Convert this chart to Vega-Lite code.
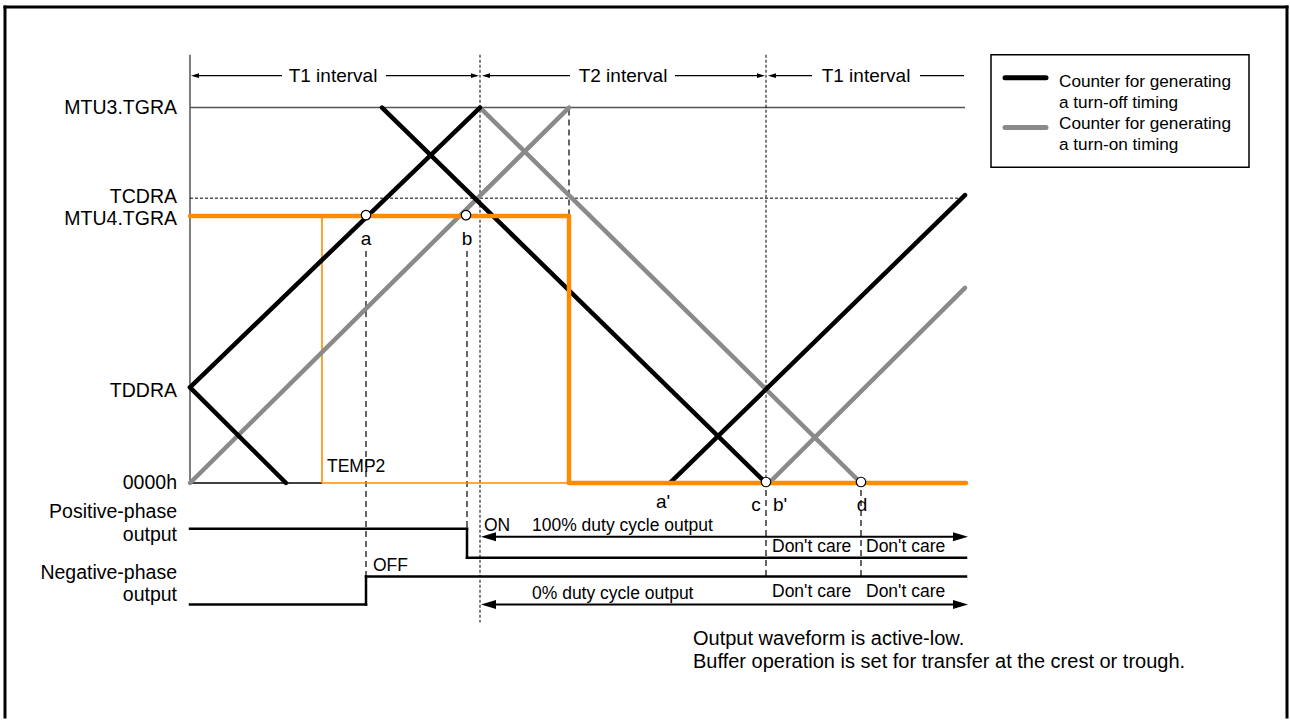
{
  "$schema": "https://vega.github.io/schema/vega-lite/v6.json",
  "width": 1290,
  "height": 720,
  "padding": 0,
  "autosize": {"type": "fit", "contains": "padding"},
  "background": "white",
  "config": {"view": {"stroke": null}, "text": {"font": "Liberation Sans", "color": "black"}},
  "encoding": {
    "x": {"field": "x", "type": "quantitative", "scale": {"domain": [0, 1290], "nice": false, "zero": false}, "axis": null},
    "y": {"field": "y", "type": "quantitative", "scale": {"domain": [0, 720], "nice": false, "zero": false, "reverse": true}, "axis": null}
  },
  "layer": [
    {
      "data": {"values": [
        {"x": 5, "y": 7, "x2": 5, "y2": 720},
        {"x": 5, "y": 7, "x2": 1287, "y2": 7},
        {"x": 1287, "y": 7, "x2": 1287, "y2": 720}
      ]},
      "mark": {"type": "rule", "color": "black", "strokeWidth": 3, "strokeCap": "square"},
      "encoding": {"x2": {"field": "x2"}, "y2": {"field": "y2"}}
    },
    {
      "data": {"values": [
        {"x": 190, "y": 55, "x2": 190, "y2": 485},
        {"x": 190, "y": 108, "x2": 965, "y2": 108}
      ]},
      "mark": {"type": "rule", "color": "#555555", "strokeWidth": 1.5},
      "encoding": {"x2": {"field": "x2"}, "y2": {"field": "y2"}}
    },
    {
      "data": {"values": [
        {"x": 190, "y": 485, "x2": 322, "y2": 485}
      ]},
      "mark": {"type": "rule", "color": "black", "strokeWidth": 1.3},
      "encoding": {"x2": {"field": "x2"}, "y2": {"field": "y2"}}
    },
    {
      "data": {"values": [
        {"x": 190, "y": 199, "x2": 965, "y2": 199},
        {"x": 480, "y": 55, "x2": 480, "y2": 625},
        {"x": 766, "y": 55, "x2": 766, "y2": 485}
      ]},
      "mark": {"type": "rule", "color": "black", "strokeWidth": 1, "strokeDash": [3, 2]},
      "encoding": {"x2": {"field": "x2"}, "y2": {"field": "y2"}}
    },
    {
      "data": {"values": [
        {"x": 366, "y": 252, "x2": 366, "y2": 579},
        {"x": 467, "y": 252, "x2": 467, "y2": 531},
        {"x": 569, "y": 110, "x2": 569, "y2": 217},
        {"x": 766, "y": 492, "x2": 766, "y2": 579},
        {"x": 861, "y": 492, "x2": 861, "y2": 579}
      ]},
      "mark": {"type": "rule", "color": "black", "strokeWidth": 1.2, "strokeDash": [6, 4]},
      "encoding": {"x2": {"field": "x2"}, "y2": {"field": "y2"}}
    },
    {
      "data": {"values": [
        {"x": 322, "y": 217, "x2": 322, "y2": 485},
        {"x": 322, "y": 485, "x2": 569, "y2": 485}
      ]},
      "mark": {"type": "rule", "color": "#ff8c00", "strokeWidth": 1.6},
      "encoding": {"x2": {"field": "x2"}, "y2": {"field": "y2"}}
    },
    {
      "data": {"values": [
        {"x": 190, "y": 485, "x2": 569, "y2": 108},
        {"x": 480, "y": 108, "x2": 861, "y2": 485},
        {"x": 769, "y": 485, "x2": 965, "y2": 289}
      ]},
      "mark": {"type": "rule", "color": "#8a8a8a", "strokeWidth": 4.5, "strokeCap": "round"},
      "encoding": {"x2": {"field": "x2"}, "y2": {"field": "y2"}}
    },
    {
      "data": {"values": [
        {"x": 190, "y": 389, "x2": 480, "y2": 108},
        {"x": 190, "y": 389, "x2": 286, "y2": 485},
        {"x": 382, "y": 108, "x2": 766, "y2": 485},
        {"x": 670, "y": 485, "x2": 965, "y2": 196}
      ]},
      "mark": {"type": "rule", "color": "black", "strokeWidth": 4.5, "strokeCap": "round"},
      "encoding": {"x2": {"field": "x2"}, "y2": {"field": "y2"}}
    },
    {
      "data": {"values": [
        {"x": 190, "y": 217, "x2": 569, "y2": 217},
        {"x": 569, "y": 217, "x2": 569, "y2": 485},
        {"x": 569, "y": 485, "x2": 966, "y2": 485}
      ]},
      "mark": {"type": "rule", "color": "#ff8c00", "strokeWidth": 4.5, "strokeCap": "round"},
      "encoding": {"x2": {"field": "x2"}, "y2": {"field": "y2"}}
    },
    {
      "data": {"values": [
        {"x": 190, "y": 531, "x2": 467, "y2": 531},
        {"x": 467, "y": 531, "x2": 467, "y2": 560},
        {"x": 467, "y": 560, "x2": 966, "y2": 560},
        {"x": 190, "y": 607, "x2": 366, "y2": 607},
        {"x": 366, "y": 607, "x2": 366, "y2": 579},
        {"x": 366, "y": 579, "x2": 966, "y2": 579}
      ]},
      "mark": {"type": "rule", "color": "black", "strokeWidth": 2.5, "strokeCap": "square"},
      "encoding": {"x2": {"field": "x2"}, "y2": {"field": "y2"}}
    },
    {
      "data": {"values": [
        {"x": 490, "y": 539, "x2": 960, "y2": 539},
        {"x": 490, "y": 607, "x2": 960, "y2": 607}
      ]},
      "mark": {"type": "rule", "color": "black", "strokeWidth": 2},
      "encoding": {"x2": {"field": "x2"}, "y2": {"field": "y2"}}
    },
    {
      "data": {"values": [
        {"x": 194, "y": 76, "x2": 282, "y2": 76},
        {"x": 386, "y": 76, "x2": 476, "y2": 76},
        {"x": 485, "y": 76, "x2": 570, "y2": 76},
        {"x": 675, "y": 76, "x2": 762, "y2": 76},
        {"x": 771, "y": 76, "x2": 812, "y2": 76},
        {"x": 920, "y": 76, "x2": 964, "y2": 76}
      ]},
      "mark": {"type": "rule", "color": "black", "strokeWidth": 1.2},
      "encoding": {"x2": {"field": "x2"}, "y2": {"field": "y2"}}
    },
    {
      "data": {"values": [{"x": 481, "y": 539}, {"x": 481, "y": 607}]},
      "mark": {"type": "point", "shape": "M0,0L2,-0.6L2,0.6Z", "size": 225, "filled": true, "color": "black", "opacity": 1, "strokeWidth": 0}
    },
    {
      "data": {"values": [{"x": 968, "y": 539}, {"x": 968, "y": 607}]},
      "mark": {"type": "point", "shape": "M0,0L-2,-0.6L-2,0.6Z", "size": 225, "filled": true, "color": "black", "opacity": 1, "strokeWidth": 0}
    },
    {
      "data": {"values": [{"x": 191, "y": 76}, {"x": 482, "y": 76}, {"x": 768, "y": 76}]},
      "mark": {"type": "point", "shape": "M0,0L2,-0.6L2,0.6Z", "size": 64, "filled": true, "color": "black", "opacity": 1, "strokeWidth": 0}
    },
    {
      "data": {"values": [{"x": 479, "y": 76}, {"x": 765, "y": 76}]},
      "mark": {"type": "point", "shape": "M0,0L-2,-0.6L-2,0.6Z", "size": 64, "filled": true, "color": "black", "opacity": 1, "strokeWidth": 0}
    },
    {
      "data": {"values": [{"x": 366, "y": 216}, {"x": 466, "y": 216}, {"x": 766, "y": 484}, {"x": 861, "y": 484}]},
      "mark": {"type": "point", "shape": "circle", "size": 90, "filled": false, "fill": "white", "fillOpacity": 1, "stroke": "black", "strokeWidth": 1.2, "opacity": 1}
    },
    {
      "data": {"values": [{"x": 991, "y": 55, "x2": 1249, "y2": 168}]},
      "mark": {"type": "rect", "fill": null, "stroke": "black", "strokeWidth": 1.5},
      "encoding": {"x2": {"field": "x2"}, "y2": {"field": "y2"}}
    },
    {
      "data": {"values": [{"x": 1005, "y": 78, "x2": 1046, "y2": 78}]},
      "mark": {"type": "rule", "color": "black", "strokeWidth": 5, "strokeCap": "round"},
      "encoding": {"x2": {"field": "x2"}, "y2": {"field": "y2"}}
    },
    {
      "data": {"values": [{"x": 1005, "y": 128, "x2": 1046, "y2": 128}]},
      "mark": {"type": "rule", "color": "#8a8a8a", "strokeWidth": 5, "strokeCap": "round"},
      "encoding": {"x2": {"field": "x2"}, "y2": {"field": "y2"}}
    },
    {
      "data": {"values": [
        {"x": 177, "y": 108, "t": "MTU3.TGRA"},
        {"x": 177, "y": 198, "t": "TCDRA"},
        {"x": 177, "y": 220, "t": "MTU4.TGRA"},
        {"x": 177, "y": 393, "t": "TDDRA"},
        {"x": 177, "y": 485, "t": "0000h"},
        {"x": 177, "y": 514, "t": "Positive-phase"},
        {"x": 177, "y": 537, "t": "output"},
        {"x": 177, "y": 575, "t": "Negative-phase"},
        {"x": 177, "y": 597, "t": "output"}
      ]},
      "mark": {"type": "text", "align": "right", "baseline": "middle", "fontSize": 19.5},
      "encoding": {"text": {"field": "t"}}
    },
    {
      "data": {"values": [
        {"x": 333, "y": 76, "t": "T1 interval"},
        {"x": 623, "y": 76, "t": "T2 interval"},
        {"x": 866, "y": 76, "t": "T1 interval"},
        {"x": 366, "y": 240, "t": "a"},
        {"x": 467, "y": 240, "t": "b"},
        {"x": 663, "y": 504, "t": "a'"},
        {"x": 756, "y": 507, "t": "c"},
        {"x": 780, "y": 507, "t": "b'"},
        {"x": 862, "y": 507, "t": "d"}
      ]},
      "mark": {"type": "text", "align": "center", "baseline": "middle", "fontSize": 19}
    ,
      "encoding": {"text": {"field": "t"}}
    },
    {
      "data": {"values": [
        {"x": 693, "y": 642, "t": "Output waveform is active-low."},
        {"x": 693, "y": 665, "t": "Buffer operation is set for transfer at the crest or trough."}
      ]},
      "mark": {"type": "text", "align": "left", "baseline": "middle", "fontSize": 20},
      "encoding": {"text": {"field": "t"}}
    },
    {
      "data": {"values": [
        {"x": 327, "y": 469, "t": "TEMP2"},
        {"x": 373, "y": 568, "t": "OFF"},
        {"x": 484, "y": 528, "t": "ON"},
        {"x": 532, "y": 528, "t": "100% duty cycle output"},
        {"x": 532, "y": 596, "t": "0% duty cycle output"},
        {"x": 772, "y": 549, "t": "Don't care"},
        {"x": 866, "y": 549, "t": "Don't care"},
        {"x": 772, "y": 594, "t": "Don't care"},
        {"x": 866, "y": 594, "t": "Don't care"}
      ]},
      "mark": {"type": "text", "align": "left", "baseline": "middle", "fontSize": 17.5},
      "encoding": {"text": {"field": "t"}}
    },
    {
      "data": {"values": [
        {"x": 1059, "y": 82, "t": "Counter for generating"},
        {"x": 1059, "y": 103, "t": "a turn-off timing"},
        {"x": 1059, "y": 125, "t": "Counter for generating"},
        {"x": 1059, "y": 146, "t": "a turn-on timing"}
      ]},
      "mark": {"type": "text", "align": "left", "baseline": "middle", "fontSize": 17.2},
      "encoding": {"text": {"field": "t"}}
    }
  ]
}
